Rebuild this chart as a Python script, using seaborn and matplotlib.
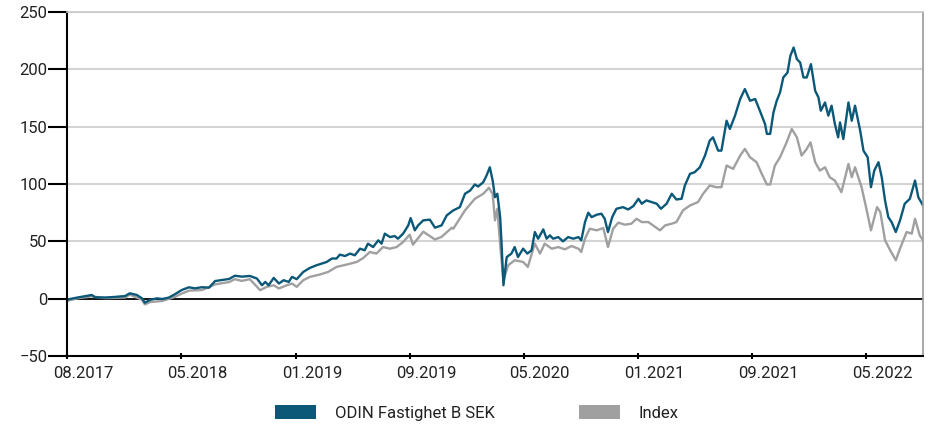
import matplotlib
matplotlib.use("Agg")
import matplotlib.pyplot as plt
import matplotlib.transforms as mtransforms
from matplotlib.patches import Patch
import seaborn as sns
import pandas as pd

# ---- data ----
fund_dates = [
    "2017-08-31", "2017-09-04", "2017-09-25", "2017-10-23", "2017-10-30", "2017-11-20", "2017-12-11",
    "2018-01-02", "2018-01-12", "2018-01-27", "2018-02-07", "2018-02-13", "2018-02-24",
    "2018-03-11", "2018-03-22", "2018-04-05", "2018-04-18", "2018-05-03", "2018-05-18",
    "2018-05-31", "2018-06-15", "2018-06-30", "2018-07-13", "2018-07-28", "2018-08-12",
    "2018-08-24", "2018-09-08", "2018-09-25", "2018-10-10", "2018-10-21", "2018-10-28",
    "2018-11-04", "2018-11-15", "2018-11-26", "2018-12-06", "2018-12-17", "2018-12-24",
    "2019-01-03", "2019-01-17", "2019-01-31", "2019-02-14", "2019-02-25", "2019-03-08",
    "2019-03-19", "2019-03-29", "2019-04-05", "2019-04-16", "2019-04-27", "2019-05-07",
    "2019-05-18", "2019-05-28", "2019-06-04", "2019-06-15", "2019-06-26", "2019-07-03",
    "2019-07-10", "2019-07-21", "2019-07-31", "2019-08-07", "2019-08-18", "2019-08-29",
    "2019-09-03", "2019-09-12", "2019-09-19", "2019-09-30", "2019-10-14", "2019-10-25",
    "2019-11-08", "2019-11-19", "2019-12-03", "2019-12-17", "2019-12-28", "2020-01-08",
    "2020-01-18", "2020-01-25", "2020-02-05", "2020-02-12", "2020-02-19", "2020-02-25",
    "2020-03-01", "2020-03-06", "2020-03-12", "2020-03-15", "2020-03-19", "2020-03-26",
    "2020-04-05", "2020-04-12", "2020-04-19", "2020-04-30", "2020-05-09", "2020-05-18",
    "2020-05-25", "2020-06-01", "2020-06-12", "2020-06-19", "2020-06-26", "2020-07-03",
    "2020-07-14", "2020-07-24", "2020-08-04", "2020-08-15", "2020-08-26", "2020-09-01",
    "2020-09-09", "2020-09-16", "2020-09-23", "2020-10-04", "2020-10-14", "2020-10-21",
    "2020-10-28", "2020-11-06", "2020-11-15", "2020-11-29", "2020-12-10", "2020-12-21",
    "2021-01-01", "2021-01-08", "2021-01-18", "2021-01-29", "2021-02-09", "2021-02-18",
    "2021-03-02", "2021-03-13", "2021-03-23", "2021-04-03", "2021-04-10", "2021-04-21",
    "2021-05-01", "2021-05-12", "2021-05-23", "2021-06-02", "2021-06-09", "2021-06-20",
    "2021-06-27", "2021-07-08", "2021-07-15", "2021-07-26", "2021-08-06", "2021-08-16",
    "2021-08-27", "2021-09-07", "2021-09-17", "2021-09-28", "2021-10-02", "2021-10-09",
    "2021-10-16", "2021-10-23", "2021-10-30", "2021-11-06", "2021-11-15", "2021-11-21",
    "2021-11-28", "2021-12-05", "2021-12-12", "2021-12-19", "2021-12-26", "2022-01-04",
    "2022-01-13", "2022-01-20", "2022-01-25", "2022-02-03", "2022-02-10", "2022-02-17",
    "2022-02-24", "2022-03-03", "2022-03-07", "2022-03-14", "2022-03-25", "2022-04-01",
    "2022-04-08", "2022-04-19", "2022-04-26", "2022-05-05", "2022-05-12", "2022-05-19",
    "2022-05-28", "2022-06-04", "2022-06-11", "2022-06-18", "2022-06-25", "2022-07-04",
    "2022-07-13", "2022-07-23", "2022-08-03", "2022-08-14", "2022-08-21", "2022-08-31",
]
fund_values = [
    -1.5, -0.5, 1.2, 3.2, 1.2, 1.0, 1.5,
    2.3, 4.7, 3.2, 0.3, -3.5, -1.1,
    0.3, -0.3, 0.9, 3.8, 7.6, 9.9,
    9.0, 10.0, 9.6, 15.4, 16.3, 17.2,
    20.0, 19.2, 19.8, 17.6, 11.7, 14.6,
    11.7, 18.1, 13.2, 16.1, 14.6, 19.0,
    17.0, 23.3, 26.8, 29.1, 30.6, 32.0,
    35.0, 35.0, 38.4, 37.2, 39.3, 37.8,
    43.6, 42.2, 48.0, 45.0, 50.9, 48.0,
    56.7, 53.7, 54.6, 52.3, 56.7, 63.9,
    70.3, 59.6, 63.9, 68.3, 68.9, 61.9,
    63.9, 72.6, 77.0, 79.8, 91.5, 94.3,
    99.6, 97.8, 101.6, 107.4, 114.6, 103.0,
    88.5, 91.5, 71.1, 48.0, 11.7, 36.3,
    39.3, 45.0, 36.3, 43.6, 39.3, 42.2,
    58.1, 52.3, 60.4, 52.3, 55.2, 52.3,
    53.7, 50.0, 53.7, 52.3, 53.7, 50.9,
    66.8, 75.0, 71.1, 73.2, 74.1, 69.7,
    58.1, 71.1, 78.4, 79.8, 77.8, 80.7,
    87.1, 82.8, 85.7, 84.2, 82.8, 78.4,
    82.8, 91.5, 86.5, 87.1, 98.7, 108.9,
    110.3, 114.6, 124.8, 137.8, 140.7, 129.1,
    129.1, 155.2, 148.0, 159.6, 174.1, 182.8,
    172.6, 174.1, 163.9, 152.3, 143.7, 143.7,
    162.4, 172.6, 179.8, 192.9, 197.2, 211.7,
    219.0, 208.9, 205.9, 192.9, 192.9, 204.5,
    181.3, 175.5, 163.9, 171.1, 159.6, 168.3,
    152.3, 140.7, 153.7, 139.3, 171.1, 155.2,
    168.3, 146.5, 129.1, 123.3, 97.2, 111.7,
    119.0, 105.9, 85.7, 71.1, 66.8, 58.1,
    68.3, 82.8, 87.1, 103.0, 88.5, 81.3,
]

index_dates = [
    "2017-08-31", "2017-09-04", "2017-09-25", "2017-10-23", "2017-11-20", "2018-01-02",
    "2018-01-12", "2018-02-07", "2018-02-13", "2018-02-24", "2018-03-22", "2018-04-18",
    "2018-05-03", "2018-05-18", "2018-06-15", "2018-07-13", "2018-08-12", "2018-08-24",
    "2018-09-08", "2018-09-25", "2018-10-17", "2018-10-31", "2018-11-15", "2018-11-26",
    "2018-12-13", "2018-12-24", "2019-01-03", "2019-01-17", "2019-01-31", "2019-02-21",
    "2019-03-11", "2019-03-29", "2019-04-19", "2019-05-11", "2019-05-25", "2019-06-08",
    "2019-06-22", "2019-07-06", "2019-07-21", "2019-08-04", "2019-08-18", "2019-09-01",
    "2019-09-08", "2019-09-30", "2019-10-25", "2019-11-08", "2019-11-30", "2019-12-03",
    "2019-12-28", "2020-01-18", "2020-02-05", "2020-02-17", "2020-02-25", "2020-03-01",
    "2020-03-06", "2020-03-13", "2020-03-19", "2020-03-29", "2020-04-12", "2020-04-30",
    "2020-05-10", "2020-05-25", "2020-06-05", "2020-06-15", "2020-06-30", "2020-07-14",
    "2020-07-28", "2020-08-11", "2020-08-26", "2020-09-01", "2020-09-09", "2020-09-19",
    "2020-10-04", "2020-10-18", "2020-10-28", "2020-11-08", "2020-11-19", "2020-12-03",
    "2020-12-17", "2020-12-28", "2021-01-08", "2021-01-22", "2021-02-01", "2021-02-16",
    "2021-02-27", "2021-03-13", "2021-03-23", "2021-04-06", "2021-04-21", "2021-05-08",
    "2021-05-19", "2021-06-02", "2021-06-16", "2021-06-27", "2021-07-08", "2021-07-22",
    "2021-08-06", "2021-08-16", "2021-08-27", "2021-09-10", "2021-09-21", "2021-10-02",
    "2021-10-09", "2021-10-19", "2021-10-30", "2021-11-13", "2021-11-24", "2021-12-05",
    "2021-12-15", "2021-12-26", "2022-01-03", "2022-01-13", "2022-01-23", "2022-02-03",
    "2022-02-13", "2022-02-24", "2022-03-10", "2022-03-25", "2022-04-01", "2022-04-08",
    "2022-04-22", "2022-05-03", "2022-05-12", "2022-05-25", "2022-06-01", "2022-06-11",
    "2022-06-22", "2022-07-04", "2022-07-13", "2022-07-27", "2022-08-07", "2022-08-14",
    "2022-08-24", "2022-08-31",
]
index_values = [
    -2.0, -1.5, 0.5, 2.0, 0.5, 1.0,
    3.5, -1.0, -5.0, -3.0, -2.0, 1.5,
    4.5, 7.0, 7.5, 12.5, 14.5, 17.0,
    15.5, 17.0, 7.4, 10.3, 11.7, 8.9,
    11.7, 13.2, 10.3, 16.1, 19.0, 21.0,
    23.3, 27.7, 29.7, 32.0, 35.5, 40.7,
    39.3, 45.0, 43.6, 45.0, 49.4, 55.8,
    47.1, 58.4, 51.6, 53.9, 61.9, 61.0,
    77.0, 87.1, 91.5, 96.7, 91.5, 68.3,
    78.4, 42.2, 16.1, 29.1, 33.5, 32.0,
    27.7, 48.0, 39.3, 48.0, 43.6, 45.0,
    43.0, 45.9, 43.6, 40.7, 52.3, 61.0,
    59.6, 61.6, 45.0, 61.0, 66.3, 64.5,
    65.4, 69.7, 66.8, 66.8, 63.9, 59.6,
    63.9, 65.4, 66.8, 77.0, 81.3, 84.2,
    91.5, 98.7, 97.2, 97.2, 116.1, 113.2,
    124.8, 130.6, 123.3, 119.0, 108.9, 99.6,
    99.6, 116.1, 123.3, 136.3, 148.0, 140.7,
    124.8, 130.6, 136.3, 119.0, 111.7, 114.6,
    105.9, 103.0, 92.9, 117.5, 105.9, 114.6,
    97.2, 77.0, 59.6, 79.8, 75.5, 50.9,
    42.2, 33.5, 43.7, 58.1, 56.7, 69.7,
    55.2, 50.9,
]

series_names = ["ODIN Fastighet B SEK", "Index"]
y_ticks = [-50, 0, 50, 100, 150, 200, 250]
x_tick_dates = ["2017-08-31", "2018-05-01", "2019-01-01", "2019-09-01",
                "2020-05-01", "2021-01-01", "2021-09-01", "2022-05-01"]
x_tick_labels = ["08.2017", "05.2018", "01.2019", "09.2019",
                 "05.2020", "01.2021", "09.2021", "05.2022"]

BLUE = "#0b5878"
GRAY = "#a0a0a0"

df = pd.concat([
    pd.DataFrame({"date": pd.to_datetime(index_dates), "value": index_values,
                  "series": series_names[1]}),
    pd.DataFrame({"date": pd.to_datetime(fund_dates), "value": fund_values,
                  "series": series_names[0]}),
], ignore_index=True)

sns.set_theme(style="white")
plt.rcParams["font.family"] = ["Roboto", "DejaVu Sans"]

fig = plt.figure(figsize=(9.38, 4.26), dpi=100)
ax = fig.add_axes([67 / 938, 1 - 356 / 426, (923 - 67) / 938, (356 - 12) / 426])

sns.lineplot(data=df, x="date", y="value", hue="series",
             hue_order=[series_names[1], series_names[0]],
             palette={series_names[0]: BLUE, series_names[1]: GRAY},
             linewidth=1.7, ax=ax, legend=False, estimator=None, sort=False)

ax.set_xlim(pd.Timestamp("2017-08-31"), pd.Timestamp("2022-08-31"))
ax.set_ylim(-50, 250)
ax.set_xlabel("")
ax.set_ylabel("")

# grid
ax.set_yticks(y_ticks)
for v in y_ticks[2:]:
    ax.axhline(v, color="#d4d4d4", lw=1.5, zorder=0)
ax.axhline(0, color="black", lw=1.3, zorder=1)

ax.set_xticks(pd.to_datetime(x_tick_dates))
ax.set_xticklabels(x_tick_labels)

ax.tick_params(axis="y", direction="out", length=14, width=1.5, color="black",
               pad=0, labelsize=12, labelcolor="#222222", left=True)
ax.tick_params(axis="x", direction="inout", length=4, width=1.5, color="black",
               pad=5, labelsize=12, labelcolor="#222222", bottom=True)

offset = mtransforms.ScaledTranslation(-14 / 100, 0, fig.dpi_scale_trans)
for lab in ax.get_xticklabels():
    lab.set_horizontalalignment("left")
    lab.set_transform(lab.get_transform() + offset)

for side in ["left", "bottom"]:
    ax.spines[side].set_color("black")
    ax.spines[side].set_linewidth(1.5)
ax.spines["top"].set_color("#c8c8c8")
ax.spines["top"].set_linewidth(1.2)
ax.spines["right"].set_color("#9a9a9a")
ax.spines["right"].set_linewidth(1.2)

handles = [Patch(facecolor=BLUE, edgecolor="none"), Patch(facecolor=GRAY, edgecolor="none")]
fig.legend(handles, series_names, loc="center", bbox_to_anchor=(0.5085, 0.031),
           ncol=2, frameon=False, fontsize=12, handlelength=2.46, handleheight=0.96,
           handletextpad=1.15, columnspacing=5.0, labelcolor="#222222")

fig.savefig("out.png", dpi=100)
